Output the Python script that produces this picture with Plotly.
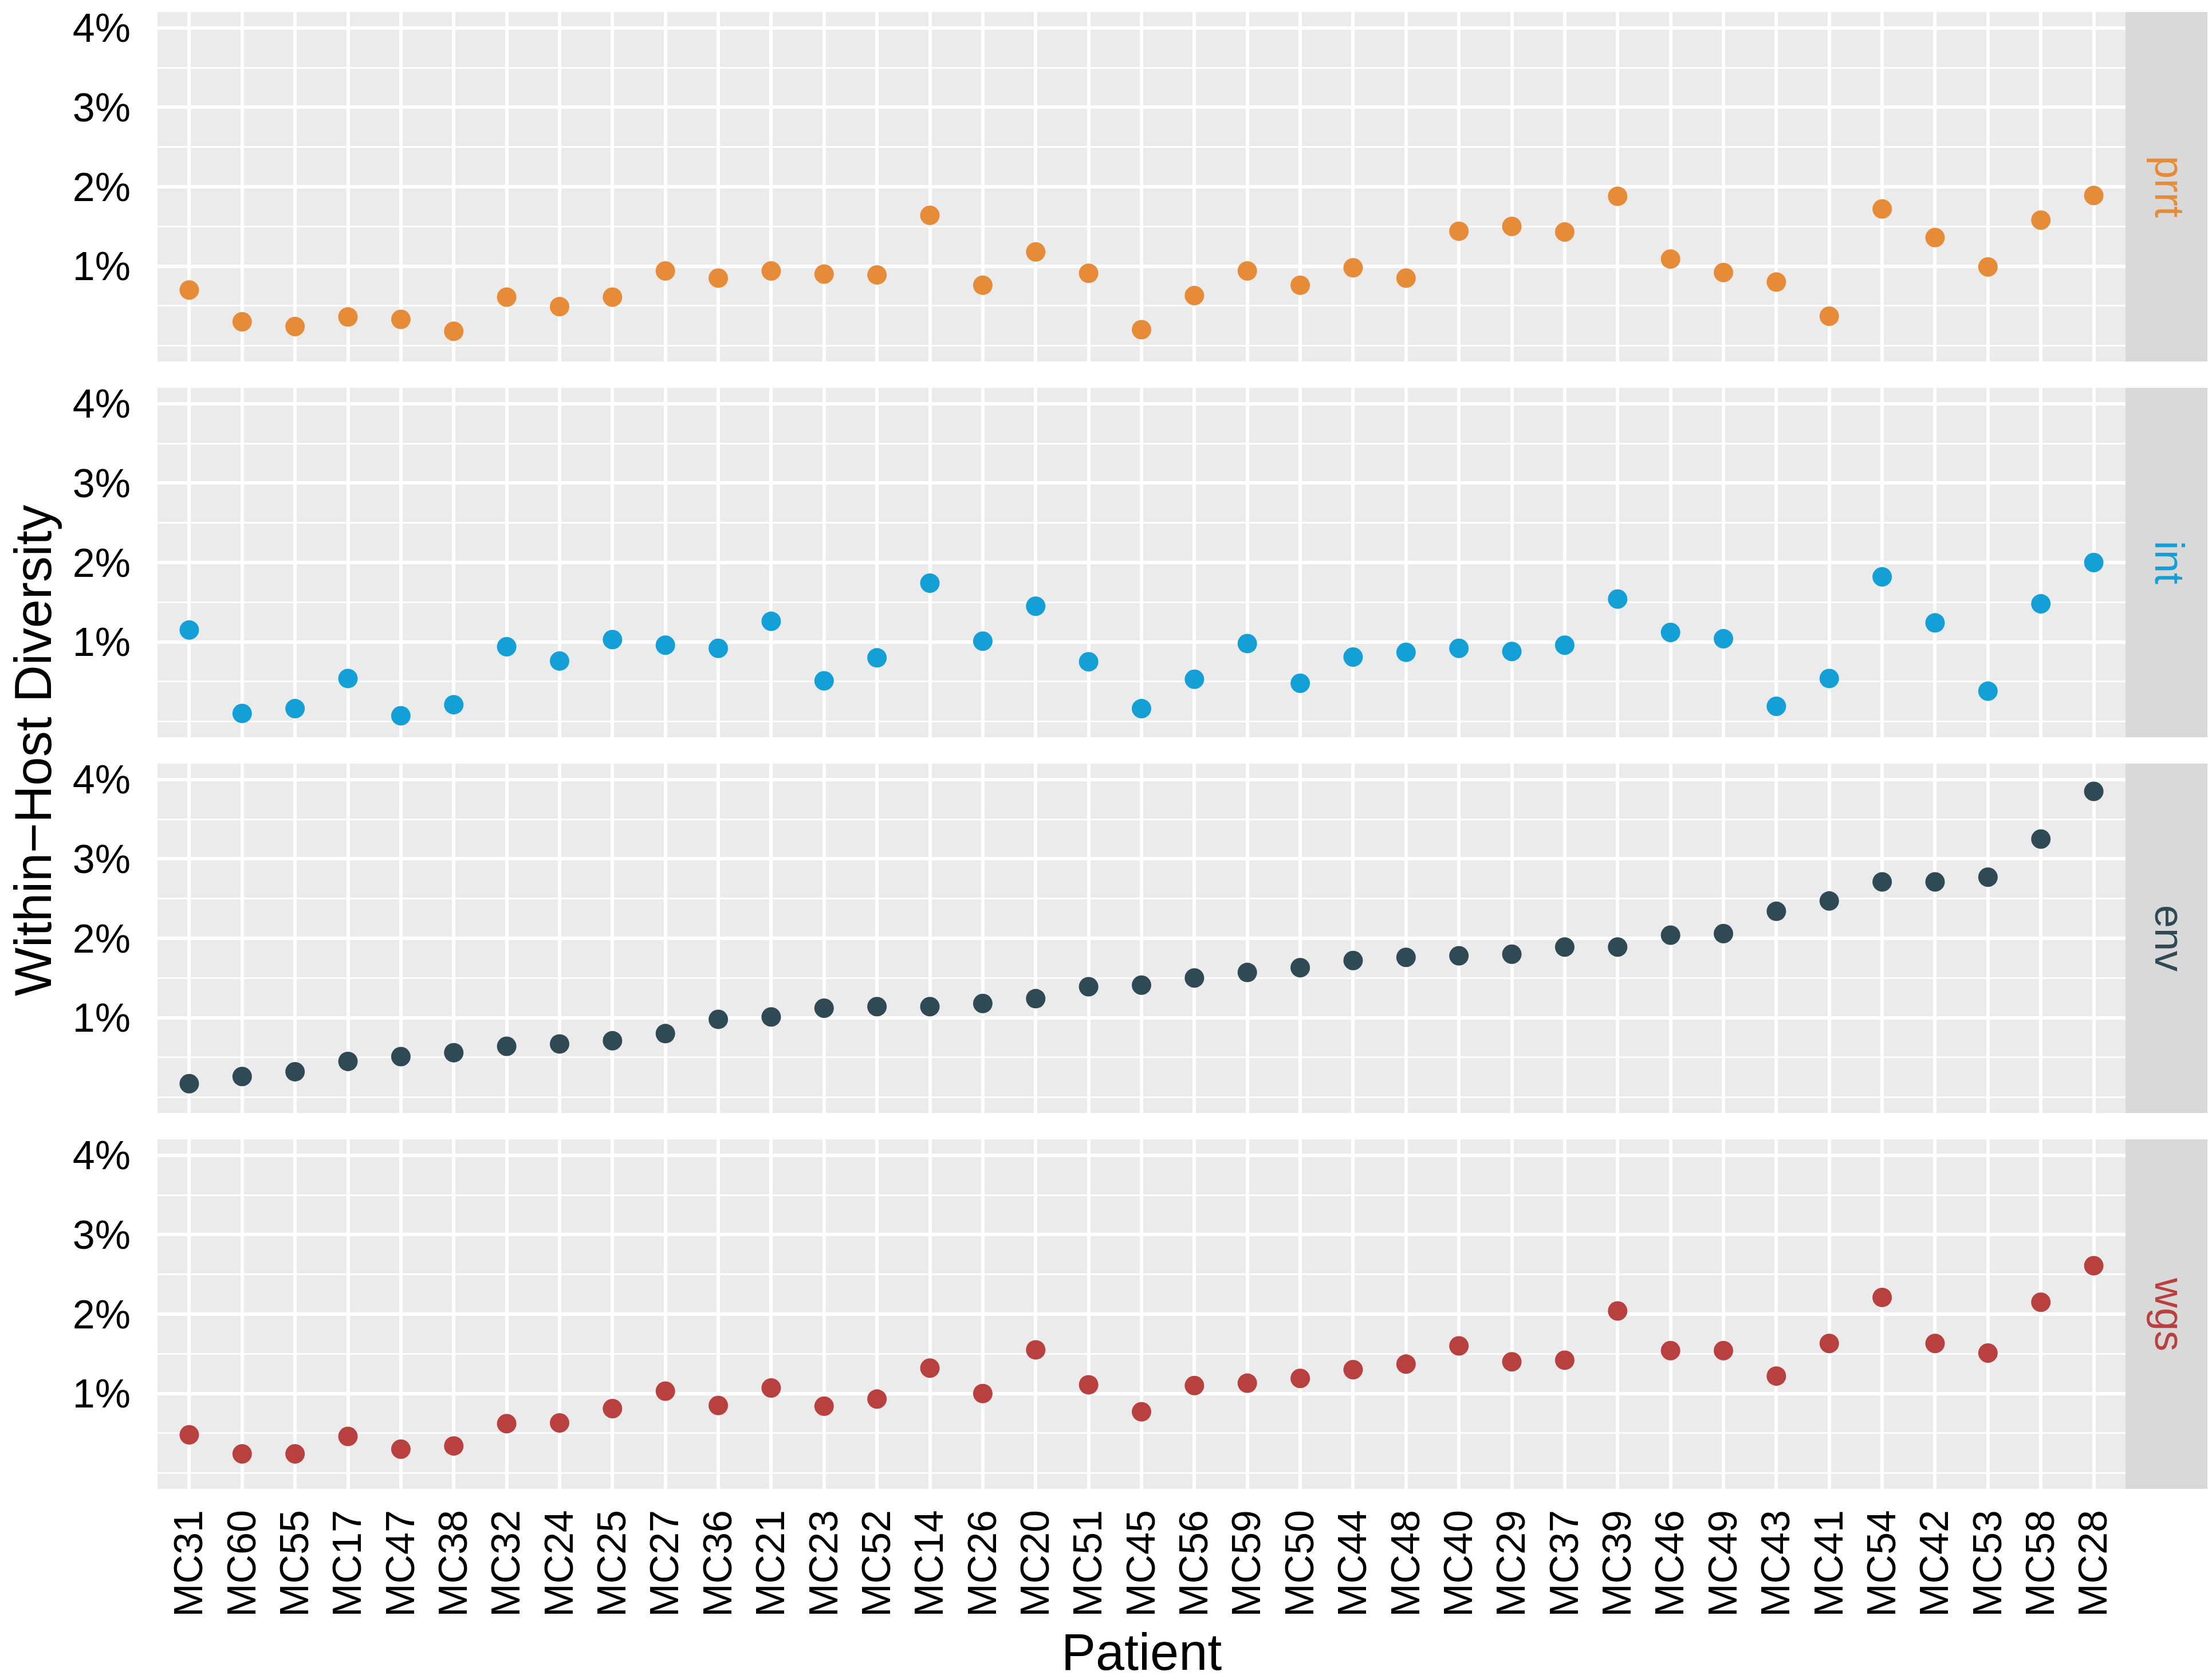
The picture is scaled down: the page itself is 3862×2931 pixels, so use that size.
import plotly.graph_objects as go
from plotly.subplots import make_subplots

patients = ["MC31", "MC60", "MC55", "MC17", "MC47", "MC38", "MC32", "MC24", "MC25",
            "MC27", "MC36", "MC21", "MC23", "MC52", "MC14", "MC26", "MC20", "MC51",
            "MC45", "MC56", "MC59", "MC50", "MC44", "MC48", "MC40", "MC29", "MC37",
            "MC39", "MC46", "MC49", "MC43", "MC41", "MC54", "MC42", "MC53", "MC58", "MC28"]

# within-host diversity, in percent
prrt = [0.70, 0.30, 0.24, 0.36, 0.33, 0.18, 0.61, 0.49, 0.61, 0.94, 0.85, 0.94, 0.90,
        0.89, 1.64, 0.76, 1.18, 0.91, 0.20, 0.63, 0.94, 0.76, 0.98, 0.85, 1.44, 1.50,
        1.43, 1.88, 1.09, 0.92, 0.80, 0.37, 1.72, 1.36, 0.99, 1.58, 1.89]
int_ = [1.15, 0.10, 0.16, 0.54, 0.07, 0.21, 0.94, 0.76, 1.03, 0.96, 0.92, 1.26, 0.51,
        0.80, 1.74, 1.01, 1.45, 0.75, 0.16, 0.53, 0.98, 0.48, 0.81, 0.87, 0.92, 0.88,
        0.96, 1.54, 1.12, 1.04, 0.19, 0.54, 1.82, 1.24, 0.38, 1.48, 2.00]
env = [0.17, 0.26, 0.32, 0.45, 0.51, 0.56, 0.64, 0.67, 0.71, 0.80, 0.98, 1.01, 1.12,
       1.14, 1.14, 1.18, 1.24, 1.39, 1.41, 1.50, 1.57, 1.63, 1.72, 1.76, 1.78, 1.80,
       1.89, 1.89, 2.04, 2.06, 2.34, 2.47, 2.71, 2.71, 2.77, 3.25, 3.85]
wgs = [0.48, 0.24, 0.24, 0.46, 0.30, 0.34, 0.62, 0.63, 0.81, 1.03, 0.85, 1.07, 0.84,
       0.93, 1.32, 1.00, 1.55, 1.11, 0.77, 1.10, 1.13, 1.19, 1.30, 1.37, 1.60, 1.40,
       1.42, 2.04, 1.54, 1.54, 1.22, 1.63, 2.21, 1.63, 1.51, 2.15, 2.61]

regions = ["prrt", "int", "env", "wgs"]
region_values = [prrt, int_, env, wgs]
region_colors = ["#E68C38", "#149FD6", "#2F4A55", "#B84140"]

y_ticks = [1, 2, 3, 4]
y_ticktext = ["1%", "2%", "3%", "4%"]

FONT = "Liberation Sans, Arial, sans-serif"
W, H = 3862, 2931
ML, MR, MT, MB = 267, 159, 13, 340
PW, PH = W - ML - MR, H - MT - MB
gap = 46 / PH

fig = make_subplots(rows=4, cols=1, shared_xaxes=True, vertical_spacing=gap)

for i, (name, vals, col) in enumerate(zip(regions, region_values, region_colors)):
    fig.add_trace(go.Scatter(
        x=patients, y=vals, mode="markers", name=name, showlegend=False,
        marker=dict(color=col, size=34, line=dict(width=0)),
    ), row=i + 1, col=1)

fig.update_xaxes(
    type="category", categoryorder="array", categoryarray=patients,
    range=[-0.6, len(patients) - 0.4],
    showgrid=True, gridcolor="white", gridwidth=5.5,
    zeroline=False, showline=False, ticks="",
    tickangle=-90, ticklabelstandoff=22, ticklabeloverflow="allow",
    tickfont=dict(family=FONT, size=70, color="black"),
)
fig.update_yaxes(
    range=[-0.2, 4.2], tickmode="array", tickvals=y_ticks, ticktext=y_ticktext,
    showgrid=True, gridcolor="white", gridwidth=5.5,
    minor=dict(tickmode="array", tickvals=[0, 0.5, 1.5, 2.5, 3.5],
               showgrid=True, gridcolor="white", gridwidth=3),
    zeroline=False, showline=False, ticks="",
    ticklabelstandoff=46, ticklabeloverflow="allow",
    tickfont=dict(family=FONT, size=70, color="black"),
)

# facet strips on the right
for i, (name, col) in enumerate(zip(regions, region_colors)):
    yax = fig.layout["yaxis" + ("" if i == 0 else str(i + 1))]
    y0, y1 = yax.domain
    fig.add_shape(type="rect", xref="paper", yref="paper",
                  x0=1.0, x1=(3857 - ML) / PW, y0=y0, y1=y1,
                  fillcolor="#D9D9D9", line=dict(width=0), layer="below")
    fig.add_annotation(text=name, xref="paper", yref="paper",
                       x=(3780 - ML) / PW, y=(y0 + y1) / 2,
                       xanchor="center", yanchor="middle",
                       showarrow=False, textangle=90,
                       font=dict(family=FONT, size=72, color=col))

fig.add_annotation(text="Patient", xref="paper", yref="paper",
                   x=0.5, y=(2591 - 2928) / PH, showarrow=False,
                   xanchor="center", yanchor="bottom",
                   font=dict(family=FONT, size=90, color="black"))
fig.add_annotation(text="Within\u2212Host Diversity", xref="paper", yref="paper",
                   x=(50 - ML) / PW, y=0.5, showarrow=False, textangle=-90,
                   xanchor="center", yanchor="middle",
                   font=dict(family=FONT, size=90, color="black"))

fig.update_layout(
    width=W, height=H,
    margin=dict(l=ML, r=MR, t=MT, b=MB, autoexpand=False),
    paper_bgcolor="white", plot_bgcolor="#EBEBEB",
    font=dict(family=FONT, color="black"),
)

fig.write_html("out.html")
